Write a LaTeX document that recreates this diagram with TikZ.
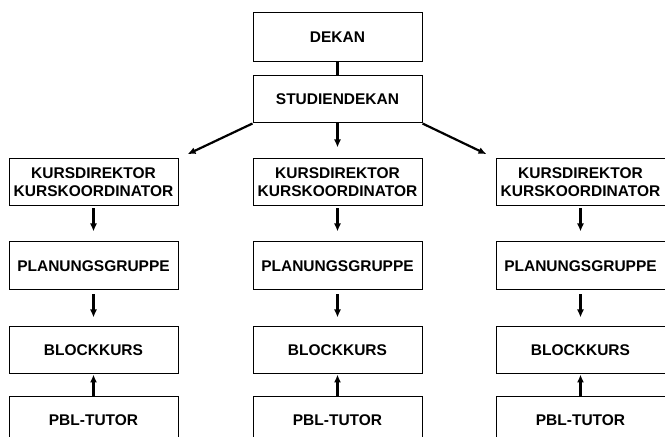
\documentclass[tikz,border=0pt]{standalone}
\usepackage{fontspec}
\setmainfont{Liberation Sans}
\usetikzlibrary{positioning,arrows.meta}

\begin{document}
\begin{tikzpicture}[x=1pt, y=1pt, node distance = 35pt and 74pt,
  box/.style = {draw, line width=1pt, minimum width=169pt, minimum height=47pt,
    inner sep=0pt, align=center, font=\fontsize{15.5}{18}\selectfont\bfseries},
  arr/.style = {line width=2.2pt, -{Latex[length=8pt,width=7pt]}}
  ]
  \useasboundingbox (0,0) rectangle (665,437);
  \node[box, minimum height=49pt] (dekan) at (337.5,399.5) {DEKAN};
  \node[box] (studien) [below=13pt of dekan] {STUDIENDEKAN};

  % middle column
  \node[box] (mkurs) [below=of studien] {KURSDIREKTOR\\KURSKOORDINATOR};
  \node[box, minimum height=48pt] (mplan) [below=of mkurs] {PLANUNGSGRUPPE};
  \node[box] (mblock) [below=36pt of mplan] {BLOCKKURS};
  \node[box] (mpbl) [below=22pt of mblock] {PBL-TUTOR};

  % left column
  \node[box] (lkurs) [left=of mkurs] {KURSDIREKTOR\\KURSKOORDINATOR};
  \node[box, minimum height=48pt] (lplan) [below=of lkurs] {PLANUNGSGRUPPE};
  \node[box] (lblock) [below=36pt of lplan] {BLOCKKURS};
  \node[box] (lpbl) [below=22pt of lblock] {PBL-TUTOR};

  % right column
  \node[box] (rkurs) [right=73pt of mkurs] {KURSDIREKTOR\\KURSKOORDINATOR};
  \node[box, minimum height=48pt] (rplan) [below=of rkurs] {PLANUNGSGRUPPE};
  \node[box] (rblock) [below=36pt of rplan] {BLOCKKURS};
  \node[box] (rpbl) [below=22pt of rblock] {PBL-TUTOR};

  \draw[line width=2.2pt] (dekan) -- (studien);
  \draw[arr, shorten >=10pt] (studien.south west) -- (lkurs.north east);
  \draw[arr, shorten >=11pt] (studien) -- (mkurs);
  \draw[arr, shorten >=10pt] (studien.south east) -- (rkurs.north west);

  \foreach \c in {l,m,r} {
    \draw[arr, shorten <=2pt, shorten >=10pt] (\c kurs) -- (\c plan);
    \draw[arr, shorten <=4pt, shorten >=9pt] (\c plan) -- (\c block);
    \draw[arr] (\c pbl) -- (\c block);
  }
\end{tikzpicture}
\end{document}
